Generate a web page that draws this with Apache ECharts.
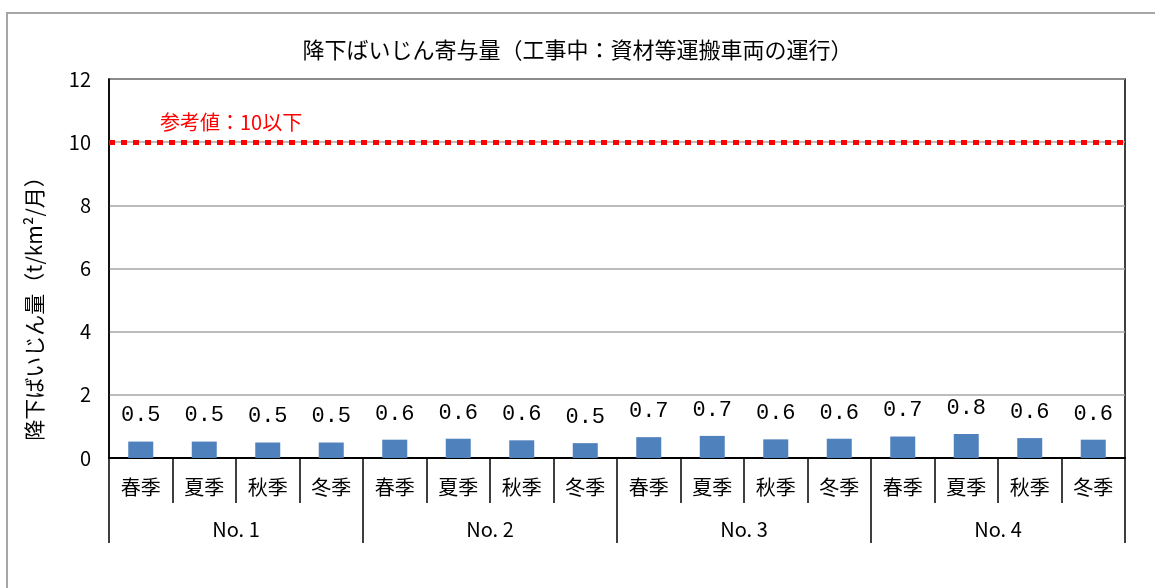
<!DOCTYPE html>
<html>
<head>
<meta charset="utf-8">
<script src="https://cdn.jsdelivr.net/npm/echarts@6/dist/echarts.min.js"></script>
<style>
  html, body { margin: 0; padding: 0; background: #fff; }
  #chart { width: 1155px; height: 588px; }
</style>
</head>
<body>
<div id="chart"></div>
<script>
var seasons = ['春季', '夏季', '秋季', '冬季', '春季', '夏季', '秋季', '冬季',
               '春季', '夏季', '秋季', '冬季', '春季', '夏季', '秋季', '冬季'];
var points = ['No. 1', 'No. 2', 'No. 3', 'No. 4'];
var dustValues = [0.52, 0.52, 0.49, 0.49, 0.58, 0.61, 0.56, 0.47,
                  0.66, 0.70, 0.59, 0.61, 0.68, 0.76, 0.63, 0.58];
var yTicks = { min: 0, max: 12, interval: 2 };
var referenceValue = 10;

var chart = echarts.init(document.getElementById('chart'));
var jpFont = '"Noto Sans CJK JP", sans-serif';

var option = {
    backgroundColor: '#fff',
    textStyle: { fontFamily: jpFont },
    title: {
        text: '降下ばいじん寄与量（工事中：資材等運搬車両の運行）',
        left: 'center',
        top: 34,
        textStyle: { fontSize: 22, fontWeight: 'normal', color: '#000', fontFamily: jpFont }
    },
    graphic: [{
        type: 'rect',
        shape: { x: 7, y: 13, width: 1300, height: 700 },
        style: { fill: 'none', stroke: '#a6a6a6', lineWidth: 2 },
        silent: true
    }],
    grid: {
        left: 109,
        right: 30,
        top: 79,
        bottom: 130,
        show: true,
        borderColor: '#000',
        borderWidth: 1.5
    },
    xAxis: [
        {
            type: 'category',
            data: seasons,
            position: 'bottom',
            axisLine: { lineStyle: { color: '#000', width: 2 } },
            axisTick: { show: true, interval: 0, length: 45, lineStyle: { color: '#000', width: 1.5 } },
            axisLabel: { interval: 0, margin: 19, fontSize: 20, color: '#000' }
        },
        {
            type: 'category',
            data: points,
            position: 'bottom',
            axisLine: { show: false },
            axisTick: { show: true, interval: 0, length: 85, lineStyle: { color: '#000', width: 1.5 } },
            axisLabel: { interval: 0, margin: 61, fontSize: 20, color: '#000' }
        }
    ],
    yAxis: {
        type: 'value',
        min: yTicks.min,
        max: yTicks.max,
        interval: yTicks.interval,
        name: '降下ばいじん量（t/km²/月）',
        nameLocation: 'middle',
        nameGap: 64,
        nameTextStyle: { fontSize: 21, color: '#000', padding: [0, 0, 0, -70] },
        axisLine: { show: true, lineStyle: { color: '#000', width: 1.5 } },
        axisTick: { show: false },
        axisLabel: { fontSize: 20, color: '#000', margin: 18 },
        splitLine: { lineStyle: { color: '#a6a6a6', width: 1.5 } }
    },
    series: [{
        type: 'bar',
        data: dustValues,
        barWidth: 25,
        itemStyle: { color: '#4f81bd' },
        label: {
            show: true,
            position: 'top',
            distance: 15,
            fontSize: 22,
            color: '#000',
            fontFamily: '"Liberation Mono", monospace',
            formatter: function (p) { return p.value.toFixed(1); }
        },
        markLine: {
            silent: true,
            symbol: 'none',
            data: [{ yAxis: referenceValue }],
            lineStyle: { color: '#ff0000', width: 5, type: [6, 6] },
            label: {
                show: true,
                position: 'insideStartTop',
                distance: [51, 10],
                fontSize: 20,
                color: '#ff0000',
                formatter: '参考値：10以下'
            }
        }
    }]
};

chart.setOption(option);
</script>
</body>
</html>
